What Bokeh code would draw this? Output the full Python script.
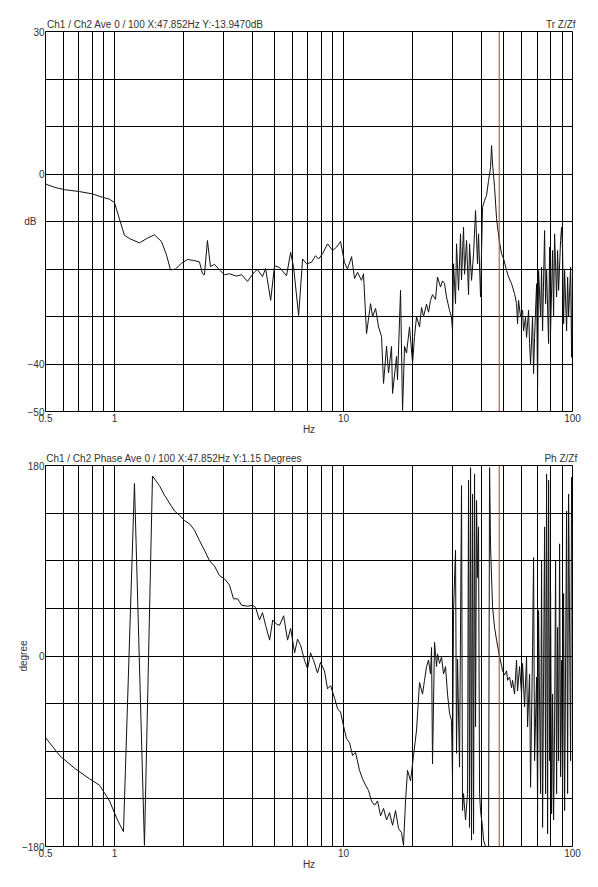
from bokeh.plotting import figure
from bokeh.layouts import column
from bokeh.models import FixedTicker, Span, LogAxis
from bokeh.embed import file_html
from bokeh.resources import INLINE

# ---------------- data ----------------
mag_freq = [0.5, 0.547, 0.605, 0.704, 0.802, 0.886, 0.952, 1.0, 1.052, 1.106, 1.163, 1.286, 1.393,
            1.495, 1.604, 1.687, 1.757, 1.847, 1.962, 2.083, 2.213, 2.351, 2.423, 2.472, 2.547, 2.626,
            2.734, 2.875, 3.023, 3.18, 3.41, 3.59, 3.81, 4.09, 4.21, 4.43, 4.57, 4.81, 5.00, 5.26,
            5.64, 5.88, 6.06, 6.37, 6.63, 6.90, 7.25, 7.55, 7.78, 8.10, 8.52, 8.97, 9.33, 9.71,
            10.10, 10.41, 10.85, 11.18, 11.52, 11.99, 12.23, 12.61, 13.13, 13.40, 13.81, 14.23,
            14.66, 14.96, 15.42, 15.73, 16.21, 16.38, 17.05, 17.22, 17.75, 18.11, 18.48, 18.85,
            19.43, 20.03, 20.43, 20.85, 21.48, 21.92, 22.37, 23.05, 23.52, 23.99, 24.48, 25.23,
            25.74, 26.53, 27.07, 27.62, 28.18, 29.04, 29.63, 29.93, 30.24, 30.85, 31.16, 31.80,
            32.44, 32.77, 33.44, 33.78, 34.46, 35.16, 35.52, 36.24, 36.98, 37.73, 38.49, 38.88,
            39.67, 40.08, 40.48, 41.31, 42.15, 43.00, 43.88, 44.32, 44.77, 45.68, 46.61, 47.852,
            49.01, 50.00, 51.53, 52.58, 54.19, 54.74, 55.85, 56.98, 57.56, 58.14, 59.32, 60.53,
            61.14, 62.38, 63.01, 64.30, 64.95, 65.60, 66.94, 67.61, 68.30, 69.69, 70.39, 71.10,
            72.55, 73.28, 74.02, 75.53, 76.29, 77.06, 78.63, 79.42, 80.23, 81.86, 82.68, 83.52,
            85.22, 86.08, 86.95, 88.72, 89.62, 90.52, 91.44, 92.36, 94.24, 95.19, 96.15, 98.11,
            99.10, 100.0]
mag_db = [-2.1, -2.8, -3.3, -3.7, -4.2, -4.9, -5.3, -6.0, -9.5, -12.9, -13.6, -14.5, -13.5,
          -12.8, -14.2, -17.0, -20.2, -20.0, -18.8, -18.0, -18.2, -18.5, -21.0, -21.2, -14.0, -19.5,
          -19.0, -20.2, -21.2, -21.0, -21.5, -21.2, -22.6, -20.6, -20.1, -21.6, -19.9, -26.6, -19.3, -19.7,
          -21.4, -16.5, -19.7, -29.8, -17.9, -18.9, -18.6, -17.2, -17.9, -16.8, -14.7, -16.1, -15.4, -14.2,
          -18.6, -20.0, -17.4, -22.0, -20.7, -22.4, -21.0, -33.6, -27.3, -30.0, -28.3, -32.2,
          -34.2, -44.1, -36.3, -41.9, -36.3, -46.2, -38.4, -43.3, -24.5, -49.8, -36.3, -37.7,
          -32.2, -39.8, -34.2, -30.0, -32.2, -28.1, -30.0, -27.4, -29.1, -26.6, -25.4, -26.4,
          -21.7, -23.8, -22.5, -23.1, -25.9, -28.7, -30.1, -33.0, -18.9, -27.3, -14.7, -24.5,
          -12.6, -22.3, -11.2, -21.1, -14.0, -25.4, -14.7, -22.4, -16.8, -7.7, -18.9, -12.6,
          -25.9, -16.1, -7.0, -5.6, -4.5, -1.4, 1.4, 6.0, 2.1, -2.8, -9.4, -13.947,
          -16.8, -17.8, -20.3, -21.7, -23.1, -23.8, -25.2, -27.3, -31.5, -26.6, -30.1, -28.7,
          -33.0, -30.1, -34.4, -28.7, -35.7, -40.0, -30.1, -42.0, -34.4, -23.1, -44.9, -20.3,
          -30.1, -19.6, -33.0, -11.9, -27.3, -20.3, -35.7, -15.4, -33.0, -16.1, -30.1, -12.6,
          -25.9, -16.1, -24.5, -14.0, -11.2, -16.1, -31.5, -20.3, -33.0, -21.7, -30.1, -19.6,
          -38.6, -20.3]

phase_freq = [0.5, 0.576, 0.669, 0.778, 0.860, 0.952, 1.031, 1.095, 1.223, 1.352, 1.466, 1.572,
              1.653, 1.829, 1.923, 2.022, 2.126, 2.235, 2.351, 2.472, 2.600, 2.734, 2.875, 3.023,
              3.18, 3.31, 3.45, 3.59, 3.81, 4.01, 4.13, 4.30, 4.43, 4.57, 4.76, 4.91, 5.11, 5.26,
              5.48, 5.70, 5.88, 6.12, 6.30, 6.50, 6.76, 6.97, 7.18, 7.40, 7.70, 7.94, 8.26, 8.52,
              8.79, 9.15, 9.43, 9.71, 10.00, 10.31, 10.63, 10.96, 11.29, 11.75, 12.11, 12.48, 12.86,
              13.26, 13.67, 14.09, 14.52, 14.96, 15.42, 15.89, 16.38, 16.88, 17.40, 17.93, 18.29,
              18.66, 19.04, 19.63, 20.23, 20.85, 21.48, 22.14, 22.59, 23.05, 23.52, 23.99, 24.24,
              24.48, 24.98, 25.49, 25.74, 26.27, 26.80, 27.35, 27.90, 28.47, 29.04, 29.63, 29.93,
              30.24, 30.85, 31.16, 31.48, 32.12, 32.77, 33.10, 33.44, 34.12, 34.81, 35.16, 35.52,
              35.88, 36.24, 36.61, 36.98, 37.35, 37.73, 38.11, 38.49, 38.88, 39.28, 39.67, 40.48,
              40.89, 41.72, 43.00, 43.44, 43.88, 44.77, 45.68, 46.61, 47.852, 49.01, 49.50, 50.51,
              51.53, 52.05, 53.11, 54.19, 54.74, 55.85, 56.98, 57.56, 58.73, 59.92, 60.53, 61.76,
              63.01, 63.65, 64.95, 65.60, 66.94, 67.61, 68.30, 69.69, 70.39, 71.10, 72.55, 73.28,
              74.02, 75.53, 76.29, 77.06, 77.84, 78.63, 79.42, 80.23, 81.04, 81.86, 82.68, 83.52,
              84.37, 85.22, 86.08, 86.95, 87.83, 88.72, 89.62, 90.52, 91.44, 92.36, 94.24, 95.19,
              96.15, 98.11, 99.10, 100.0]
phase_deg = [-77, -94, -106, -116, -122, -137, -155, -166, 163, -179, 170, 161,
             152, 137, 133, 128, 125, 119, 109, 100, 90, 85, 76, 73,
             67, 54, 54, 48, 47, 48, 46, 34, 41, 29, 15, 34, 30, 29,
             38, 15, 26, 3, 16, 10, -4, -12, 3, -4, -16, -6, -14, -31,
             -28, -40, -50, -53, -66, -78, -82, -94, -91, -108, -116, -122, -127,
             -137, -141, -137, -151, -144, -155, -148, -160, -146, -163, -167, -179,
             -137, -108, -118, -94, -70, -25, -36, -23, -10, -4, -17, 8,
             -102, 13, -10, 2, -7, -1, -17, -10, -36, -54, -61, -118,
             43, 100, -92, -3, -105, 161, -146, -130, -155, -130, 166, -162,
             178, -174, 153, -168, 172, -67, 147, 74, 122, -130, -146, -162,
             -174, -180, -180, 178, 103, 46, 27, 15, 1.15, -9, -14, -18,
             -14, -23, -20, -30, -23, -36, -4, -33, -10, -36, -7, -48,
             -1, -67, -17, -124, 8, 93, -99, -20, -146, 43, -130, 90,
             -162, 122, -130, 172, -168, 166, -99, 59, -149, -36, -155, -67,
             90, -130, 27, -99, 106, -114, -4, -130, 59, -146, 137, -130,
             153, -99, 169, 90]

cursor_freq = 47.852

x_label_ticks = [0.5, 1, 10, 100]
x_grid_ticks = [0.5, 0.6, 0.7, 0.8, 0.9, 1, 2, 3, 4, 5, 6, 7, 8, 9,
                10, 20, 30, 40, 50, 60, 70, 80, 90, 100]
mag_label_ticks = [30, 0, -40, -50]
mag_grid_ticks = [30, 20, 10, 0, -10, -20, -30, -40, -50]
phase_label_ticks = [180, 0, -180]
phase_grid_ticks = [180, 135, 90, 45, 0, -45, -90, -135, -180]

top_title = "Ch1 / Ch2  Ave 0 / 100  X:47.852Hz  Y:-13.9470dB"
top_tag = "Tr Z/Zf"
bot_title = "Ch1 / Ch2  Phase Ave 0 / 100  X:47.852Hz  Y:1.15 Degrees"
bot_tag = "Ph Z/Zf"
# anchor (centre) of each header text along the frequency axis
top_title_at = 1.574
bot_title_at = 1.902
tag_at = 88.9

FONT = "Liberation Sans"
TXT = "#333333"


def style_axis(ax):
    ax.axis_line_color = None
    ax.major_tick_line_color = None
    ax.minor_tick_line_color = None
    ax.major_tick_out = 0
    ax.major_tick_in = 0
    ax.minor_tick_out = 0
    ax.minor_tick_in = 0
    ax.major_label_text_font = FONT
    ax.major_label_text_font_size = "10px"
    ax.major_label_text_color = TXT
    ax.axis_label_text_font = FONT
    ax.axis_label_text_font_size = "10px"
    ax.axis_label_text_font_style = "normal"
    ax.axis_label_text_color = TXT


def make_panel(yr, label_ticks, grid_ticks, xs, ys, title, title_at, tag, ylabel,
               frame_h, b_top, b_bottom, rotated_label):
    p = figure(width=45 + 527 + 13, height=b_top + frame_h + b_bottom,
               frame_width=527, frame_height=frame_h,
               x_axis_type="log", x_range=(0.5, 100), y_range=yr,
               output_backend="svg", toolbar_location=None,
               min_border_left=45, min_border_right=13,
               min_border_top=b_top, min_border_bottom=b_bottom)
    p.background_fill_color = "white"
    p.border_fill_color = "white"
    p.outline_line_color = "black"
    p.outline_line_width = 1

    # grids
    p.xgrid.ticker = FixedTicker(ticks=x_grid_ticks)
    p.ygrid.ticker = FixedTicker(ticks=grid_ticks)
    for g in (p.xgrid[0], p.ygrid[0]):
        g.grid_line_color = "black"
        g.grid_line_alpha = 1.0
        g.grid_line_width = 1

    # axes
    xa = p.xaxis[0]
    xa.ticker = FixedTicker(ticks=x_label_ticks)
    xa.major_label_overrides = {0.5: "0.5", 1: "1", 10: "10", 100: "100"}
    xa.axis_label = "Hz"
    xa.axis_label_standoff = -1
    xa.major_label_standoff = 2
    ya = p.yaxis[0]
    ya.ticker = FixedTicker(ticks=label_ticks)
    ya.major_label_standoff = 1
    ya.axis_label = ylabel
    if rotated_label:
        ya.axis_label_standoff = -10
    else:
        ya.axis_label_orientation = "horizontal"
        ya.axis_label_standoff = -12
    style_axis(xa)
    style_axis(ya)

    # header texts above the frame
    hdr = LogAxis(ticker=FixedTicker(ticks=[title_at, tag_at]),
                  major_label_overrides={title_at: title, tag_at: tag},
                  major_label_standoff=2)
    style_axis(hdr)
    p.add_layout(hdr, "above")

    # data
    p.line(xs, ys, line_color="#111111", line_width=1)

    # cursor
    p.add_layout(Span(location=cursor_freq, dimension="height",
                      line_color="#c0392b", line_width=1))
    return p


p1 = make_panel((-50, 30), mag_label_ticks, mag_grid_ticks, mag_freq, mag_db,
                top_title, top_title_at, top_tag, "dB", 380, 31, 29, False)
p2 = make_panel((-180, 180), phase_label_ticks, phase_grid_ticks, phase_freq, phase_deg,
                bot_title, bot_title_at, bot_tag, "degree", 381, 25, 33, True)

layout = column(p1, p2, spacing=0)
open("out.html", "w").write(file_html(layout, INLINE))
